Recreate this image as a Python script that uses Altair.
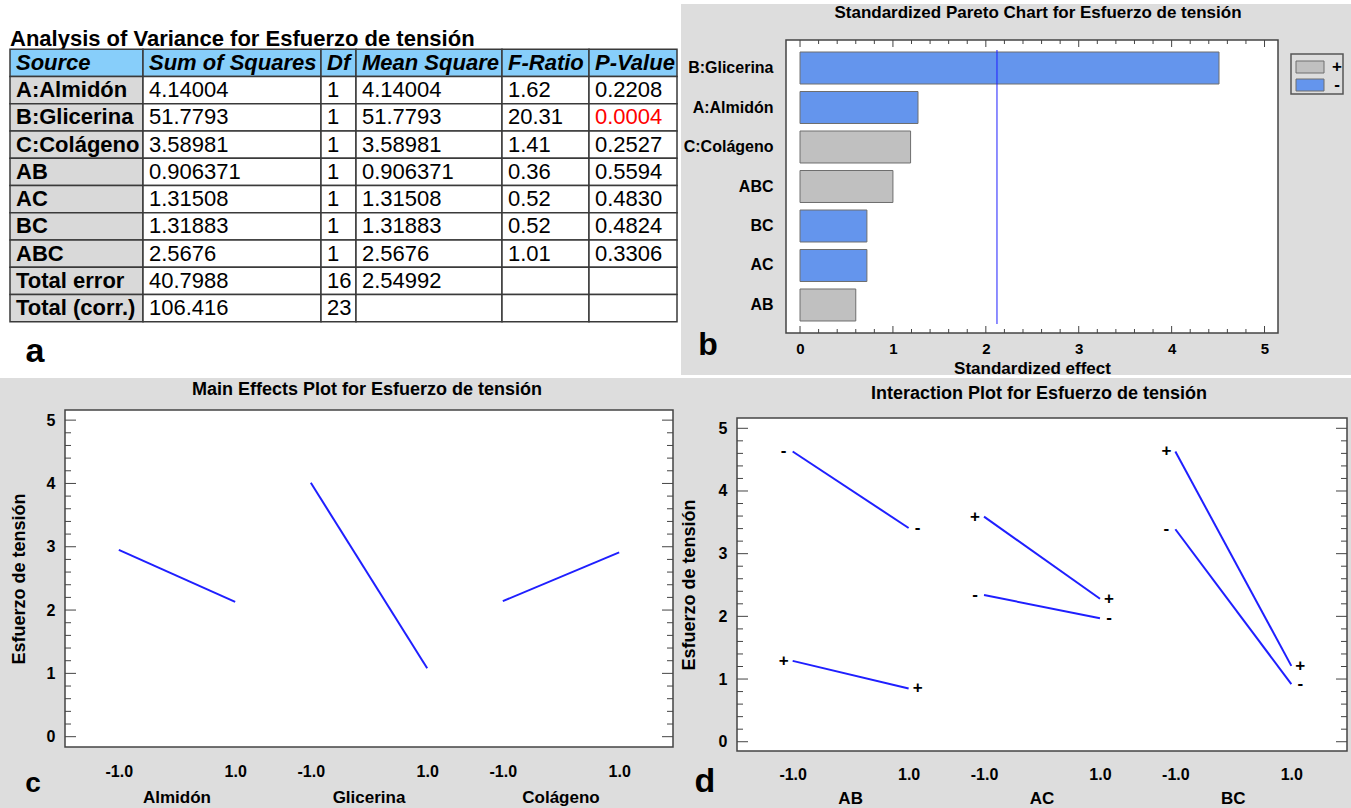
import altair as alt
import pandas as pd

# ---------------- data ----------------
headers = ["Source", "Sum of Squares", "Df", "Mean Square", "F-Ratio", "P-Value"]
sources = ["A:Almidón", "B:Glicerina", "C:Colágeno", "AB", "AC", "BC", "ABC",
           "Total error", "Total (corr.)"]
sum_squares = [4.14004, 51.7793, 3.58981, 0.906371, 1.31508, 1.31883, 2.5676, 40.7988, 106.416]
dfs = [1, 1, 1, 1, 1, 1, 1, 16, 23]
mean_squares = [4.14004, 51.7793, 3.58981, 0.906371, 1.31508, 1.31883, 2.5676, 2.54992, None]
f_ratios = [1.62, 20.31, 1.41, 0.36, 0.52, 0.52, 1.01, None, None]
p_values = [0.2208, 0.0004, 0.2527, 0.5594, 0.4830, 0.4824, 0.3306, None, None]

pareto_effects = ["B:Glicerina", "A:Almidón", "C:Colágeno", "ABC", "BC", "AC", "AB"]
pareto_values = [4.51, 1.27, 1.19, 1.00, 0.72, 0.72, 0.60]
pareto_signs = ["-", "-", "+", "+", "-", "-", "+"]
legend_signs = ["+", "-"]
t_critical = 2.12

main_factors = ["Almidón", "Glicerina", "Colágeno"]
main_low = [2.95, 4.01, 2.14]
main_high = [2.13, 1.08, 2.91]

inter_pairs = ["AB", "AC", "BC"]
inter_minus_low = [4.63, 2.34, 3.39]
inter_minus_high = [3.41, 1.97, 0.92]
inter_plus_low = [1.29, 3.59, 4.63]
inter_plus_high = [0.85, 2.28, 1.21]

# ---------------- style / layout ----------------
FONT = "Liberation Sans"
BG = "#dddddd"
FRAME = "#444444"
GRID = "#3a3a3a"
BLUE = "#1f1fff"
one = alt.Data(values=[{}])


def rect(x, x2, y, y2, fill, stroke=None, sw=0.0):
    kw = dict(fill=fill)
    if stroke:
        kw.update(stroke=stroke, strokeWidth=sw)
    else:
        kw.update(strokeWidth=0)
    return alt.Chart(one).mark_rect(**kw).encode(
        x=alt.value(x), x2=alt.value(x2), y=alt.value(y), y2=alt.value(y2))


def label(txt, x, y, size, align="center", baseline="middle", weight="bold"):
    return alt.Chart(one).mark_text(align=align, baseline=baseline, fontSize=size,
                                    fontWeight=weight, color="black").encode(
        x=alt.value(x), y=alt.value(y), text=alt.value(txt))


# ---------------- (a) ANOVA table ----------------
col_widths = [133, 178, 35, 146, 87, 88]
TH = 293
T_DOMAIN = [-0.341, 10.415]


def cell_strings(j):
    if j == 0:
        return list(sources)
    if j == 1:
        return [f"{v:.6g}" for v in sum_squares]
    if j == 2:
        return [str(v) for v in dfs]
    if j == 3:
        return ["" if v is None else f"{v:.6g}" for v in mean_squares]
    if j == 4:
        return ["" if v is None else f"{v:.2f}" for v in f_ratios]
    return ["" if v is None else f"{v:.4f}" for v in p_values]


def table_column(j):
    w = col_widths[j]
    texts = [headers[j]] + cell_strings(j)
    kinds = ["header"] + (["source"] * 9 if j == 0 else ["value"] * 9)
    pcol = [1.0] + ([1.0 if p is None else p for p in p_values] if j == 5 else [1.0] * 9)
    df = pd.DataFrame({"row": list(range(10)), "text": texts, "kind": kinds, "p": pcol})
    ys = alt.Scale(domain=T_DOMAIN, reverse=True, nice=False, zero=False)
    base = alt.Chart(df).transform_calculate(r2="datum.row + 1", rm="datum.row + 0.5")
    cells = base.mark_rect(stroke=GRID, strokeWidth=1.5).encode(
        x=alt.value(0), x2=alt.value(w),
        y=alt.Y("row:Q", scale=ys, axis=None), y2="r2:Q",
        fill=alt.Fill("kind:N", scale=alt.Scale(domain=["header", "source", "value"],
                                                range=["#87cefa", "#d9d9d9", "#ffffff"]),
                      legend=None))
    head = base.transform_filter("datum.row == 0").mark_text(
        align="left", baseline="middle", dx=6, fontSize=22, fontWeight="bold",
        fontStyle="italic", color="black").encode(
        x=alt.value(0), y=alt.Y("rm:Q", scale=ys, axis=None), text="text:N")
    body = base.transform_filter("datum.row > 0").mark_text(
        align="left", baseline="middle", dx=6, fontSize=22,
        fontWeight="bold" if j == 0 else "normal").encode(
        x=alt.value(0), y=alt.Y("rm:Q", scale=ys, axis=None), text="text:N",
        color=alt.condition("datum.p < 0.05", alt.value("#ff0000"), alt.value("#000000")))
    layers = [cells, head, body]
    if j == 0:
        deco = [
            rect(-10, 671, -40, 338, "#ffffff"),          # white area of panel a
            rect(671, 1341, 335, 338, "#ffffff"),         # white gutter between rows
            rect(671, 1341, -40, -36, "#ffffff"),         # thin white strip on top
            rect(-10, 671, 338, 339, BG),                 # row-1 bottom anchor
            label("Analysis of Variance for Esfuerzo de tensión", 0, 6, 22,
                  align="left", baseline="alphabetic"),
            label("a", 25, 322, 34, baseline="alphabetic"),
        ]
        layers = deco + layers
    return alt.layer(*layers).properties(width=w, height=TH)


# ---------------- (b) Pareto chart ----------------
PW, PH = 492, 293
px_scale = alt.Scale(domain=[-0.151, 5.145], nice=False, zero=False)
px_axis = alt.Axis(values=[0, 1, 2, 3, 4, 5], format="d", ticks=False, domain=False, grid=False,
                   labelFontSize=15, labelFontWeight="bold", labelPadding=8, labelFlush=False,
                   labelColor="black", title="Standardized effect", titleFontSize=17,
                   titleFontWeight="bold", titlePadding=4, titleColor="black")
sign_scale = alt.Scale(domain=legend_signs, range=["#c0c0c0", "#6495ed"])
pareto_df = pd.DataFrame({"effect": pareto_effects, "value": pareto_values, "sign": pareto_signs})

p_bars = alt.Chart(pareto_df).transform_calculate(zero="0").mark_bar(
    stroke="#6e6e6e", strokeWidth=1, opacity=1).encode(
    x=alt.X("value:Q", scale=px_scale, axis=px_axis),
    x2="zero:Q",
    y=alt.Y("effect:N", sort=pareto_effects,
            scale=alt.Scale(paddingInner=0.19, paddingOuter=0.304),
            axis=alt.Axis(title=None, ticks=False, domain=False, labelPadding=13,
                          labelFontSize=16, labelFontWeight="bold", labelColor="black")),
    color=alt.Color("sign:N", scale=sign_scale, legend=None))

p_crit = alt.Chart(pd.DataFrame({"t": [t_critical]})).mark_rule(color=BLUE, strokeWidth=1).encode(
    x=alt.X("t:Q", scale=px_scale, axis=px_axis), y=alt.value(10), y2=alt.value(284))

p_major = [0, 1, 2, 3, 4, 5]
p_minor = [round(i * 0.2, 1) for i in range(26) if i % 5 != 0]


def p_ticks(vals, y, y2):
    return alt.Chart(pd.DataFrame({"v": vals})).mark_rule(color=FRAME, strokeWidth=1).encode(
        x=alt.X("v:Q", scale=px_scale, axis=px_axis), y=alt.value(y), y2=alt.value(y2))


def legend_entry(k, yc):
    d = alt.Chart(pd.DataFrame({"sign": [legend_signs[k]]}))
    sw = d.mark_rect(stroke="#6e6e6e", strokeWidth=1).encode(
        x=alt.value(510), x2=alt.value(538), y=alt.value(yc - 6), y2=alt.value(yc + 6),
        color=alt.Color("sign:N", scale=sign_scale, legend=None))
    tx = d.mark_text(fontSize=17, fontWeight="bold", color="black", baseline="middle").encode(
        x=alt.value(551), y=alt.value(yc), text="sign:N")
    return [sw, tx]


pareto = alt.layer(
    rect(0, PW, 0, PH, "#ffffff", FRAME, 1.5),
    p_bars, p_crit,
    p_ticks(p_major, PH, PH - 7), p_ticks(p_minor, PH, PH - 4),
    p_ticks(p_major, 0, 7), p_ticks(p_minor, 0, 4),
    rect(505, 557, 14, 54, BG, "#555555", 1.5),
    *legend_entry(0, 27), *legend_entry(1, 45),
    label("Standardized Pareto Chart for Esfuerzo de tensión", 252, -27, 17),
    label("b", -78, 315, 32, baseline="alphabetic"),
).properties(width=PW, height=PH)

# ---------------- (c) main effects & (d) interaction ----------------
S = 3.3
x_ticks = [g * S + lv for g in range(3) for lv in (-1, 1)]
x_label_expr = f"(datum.value - {S} * round(datum.value / {S})) < 0 ? '-1.0' : '1.0'"
y_major = [0, 1, 2, 3, 4, 5]
y_minor = [round(i * 0.2, 1) for i in range(26) if i % 5 != 0]


def effect_axes(label_pad_x, title_pad, title_y=None):
    ax = alt.Axis(values=x_ticks, labelExpr=x_label_expr, ticks=False, domain=False, grid=False,
                  labelFontSize=16, labelFontWeight="bold", labelPadding=label_pad_x,
                  labelFlush=False, labelOverlap=False, labelColor="black", title=None)
    kw = dict(values=y_major, format="d", ticks=False, domain=False, grid=False,
              labelFontSize=16, labelFontWeight="bold", labelPadding=10, labelColor="black",
              title="Esfuerzo de tensión", titleFontSize=18, titleFontWeight="bold",
              titlePadding=title_pad, titleColor="black")
    if title_y is not None:
        kw["titleY"] = title_y
    return ax, alt.Axis(**kw)


def y_ticks(vals, x, x2, ys, ay):
    return alt.Chart(pd.DataFrame({"v": vals})).mark_rule(color=FRAME, strokeWidth=1).encode(
        y=alt.Y("v:Q", scale=ys, axis=ay), x=alt.value(x), x2=alt.value(x2))


def group_names(names, xs, ax, y):
    df = pd.DataFrame({"name": names, "g": list(range(len(names)))})
    return alt.Chart(df).transform_calculate(pos=f"datum.g * {S}").mark_text(
        fontSize=17, fontWeight="bold", color="black", baseline="middle").encode(
        x=alt.X("pos:Q", scale=xs, axis=ax), y=alt.value(y), text="name:N")


# main effects
MW, MH = 608, 337
mx = alt.Scale(domain=[-1.925, 8.525], nice=False, zero=False)
my = alt.Scale(domain=[-0.163, 5.16], nice=False, zero=False)
max_, may_ = effect_axes(16, 18)
main_rows = []
for g, f in enumerate(main_factors):
    main_rows.append(dict(factor=f, g=g, level=-1, value=main_low[g]))
    main_rows.append(dict(factor=f, g=g, level=1, value=main_high[g]))
main_df = pd.DataFrame(main_rows)
main_lines = alt.Chart(main_df).transform_calculate(pos=f"datum.g * {S} + datum.level").mark_line(
    color=BLUE, strokeWidth=2).encode(
    x=alt.X("pos:Q", scale=mx, axis=max_), y=alt.Y("value:Q", scale=my, axis=may_),
    detail="factor:N")

main = alt.layer(
    rect(0, MW, 0, MH, "#ffffff", FRAME, 1.5),
    main_lines,
    group_names(main_factors, mx, max_, MH + 51),
    y_ticks(y_major, 0, 11, my, may_), y_ticks(y_minor, 0, 6, my, may_),
    y_ticks(y_major, MW - 11, MW, my, may_), y_ticks(y_minor, MW - 6, MW, my, may_),
    label("Main Effects Plot for Esfuerzo de tensión", 302, -20, 18),
    label("c", -32, 382, 28, baseline="alphabetic"),
    rect(-65, -64, -31, -30, BG),                       # row-2 top anchor
).properties(width=MW, height=MH)

# interaction
IW, IH = 610, 341
ix = alt.Scale(domain=[-1.96, 8.56], nice=False, zero=False)
iy = alt.Scale(domain=[-0.148, 5.292], nice=False, zero=False)
iax, iay = effect_axes(15, 20, 174.5)
inter_rows = []
for g, pair in enumerate(inter_pairs):
    for sign, lo, hi in (("-", inter_minus_low[g], inter_minus_high[g]),
                         ("+", inter_plus_low[g], inter_plus_high[g])):
        inter_rows.append(dict(pair=pair, g=g, sign=sign, level=-1, value=lo))
        inter_rows.append(dict(pair=pair, g=g, sign=sign, level=1, value=hi))
inter_df = pd.DataFrame(inter_rows)
ibase = alt.Chart(inter_df).transform_calculate(pos=f"datum.g * {S} + datum.level",
                                               series="datum.pair + datum.sign")
inter_lines = ibase.mark_line(color=BLUE, strokeWidth=2).encode(
    x=alt.X("pos:Q", scale=ix, axis=iax), y=alt.Y("value:Q", scale=iy, axis=iay),
    detail="series:N")


def markers(cond, dx):
    return ibase.transform_filter(cond).mark_text(
        dx=dx, fontSize=17, fontWeight="bold", color="black", baseline="middle").encode(
        x=alt.X("pos:Q", scale=ix, axis=iax), y=alt.Y("value:Q", scale=iy, axis=iay),
        text="sign:N")


inter = alt.layer(
    rect(0, IW, 8, IH, "#ffffff", FRAME, 1.5),
    inter_lines,
    markers("datum.level < 0", -9), markers("datum.level > 0", 9),
    group_names(inter_pairs, ix, iax, IH + 48),
    y_ticks(y_major, 0, 11, iy, iay), y_ticks(y_minor, 0, 6, iy, iay),
    y_ticks(y_major, IW - 11, IW, iy, iay), y_ticks(y_minor, IW - 6, IW, iy, iay),
    label("Interaction Plot for Esfuerzo de tensión", 302, -16, 18),
    label("d", -32, 382, 34, baseline="alphabetic"),
    rect(604, 614, 388, 398, BG),                       # bottom-right extent anchor
).properties(width=IW, height=IH)


def spacer(w):
    return alt.Chart(one).mark_rect(opacity=0).encode(
        x=alt.value(0), x2=alt.value(w), y=alt.value(0), y2=alt.value(1)).properties(width=w, height=10)


row1 = alt.hconcat(*[table_column(j) for j in range(6)], spacer(109), pareto,
                   spacing=0, bounds="flush")
row2 = alt.hconcat(spacer(55), main, spacer(64), inter, spacing=0, bounds="flush")

chart = alt.vconcat(row1, row2, spacing=0).properties(
    padding=0, background=BG
).configure(font=FONT).configure_view(strokeWidth=0)

chart.save("out.html", embed_options={"renderer": "svg", "actions": False})
